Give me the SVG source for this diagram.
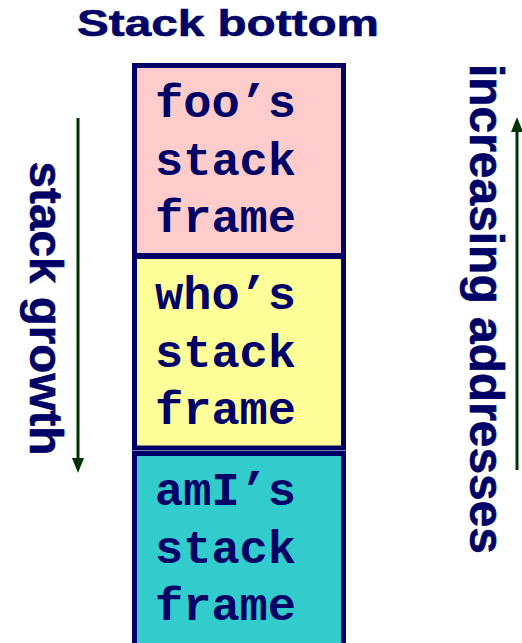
<svg xmlns="http://www.w3.org/2000/svg" width="522" height="643" viewBox="0 0 522 643">
  <defs>
    <style>
      .frame { stroke: #000066; stroke-width: 5; }
      .mono { font-family: "Liberation Mono", "Courier New", monospace; font-weight: bold; font-size: 47px; fill: #000066; }
      .sans { font-family: "Liberation Sans", Arial, sans-serif; font-weight: bold; fill: #000066; stroke: #000066; stroke-width: 0.6; }
      .arrow { stroke: #003300; stroke-width: 3; fill: none; }
    </style>
    <!-- arrowhead drawn along +x so orient="auto" points it down the line -->
    <marker id="head" viewBox="0 0 15 12" refX="5" refY="6" markerWidth="15" markerHeight="12" markerUnits="userSpaceOnUse" orient="auto">
      <path d="M0,0 L15,6 L0,12 Z" fill="#003300"/>
    </marker>
  </defs>
  <rect width="522" height="643" fill="#ffffff"/>

  <text class="sans" x="77" y="36" font-size="37" textLength="302" lengthAdjust="spacingAndGlyphs">Stack bottom</text>

  <g id="foo-frame">
    <rect class="frame" x="134.5" y="65.5" width="209" height="190" fill="#FFCCCC"/>
    <text class="mono" x="155" y="117">foo’s</text>
    <text class="mono" x="155" y="175">stack</text>
    <text class="mono" x="155" y="232">frame</text>
  </g>

  <g id="who-frame">
    <rect class="frame" x="134.5" y="256.5" width="209" height="191.5" fill="#FFFF99"/>
    <text class="mono" x="155" y="309">who’s</text>
    <text class="mono" x="155" y="367">stack</text>
    <text class="mono" x="155" y="424">frame</text>
  </g>

  <g id="amI-frame">
    <rect class="frame" x="134.5" y="453.5" width="209" height="200" fill="#33CCCC"/>
    <text class="mono" x="155" y="505">amI’s</text>
    <text class="mono" x="155" y="563">stack</text>
    <text class="mono" x="155" y="620">frame</text>
  </g>

  <g id="connectors">
    <line class="arrow" x1="78" y1="118" x2="78" y2="463" marker-end="url(#head)"/>
    <line class="arrow" x1="517" y1="470" x2="517" y2="127" marker-end="url(#head)"/>
  </g>

  <g id="labels">
    <text class="sans" transform="translate(30,161.5) rotate(90)" font-size="47" textLength="294" lengthAdjust="spacingAndGlyphs">stack growth</text>
    <text class="sans" transform="translate(470,64) rotate(90)" font-size="48" textLength="490" lengthAdjust="spacingAndGlyphs">increasing addresses</text>
  </g>
</svg>
